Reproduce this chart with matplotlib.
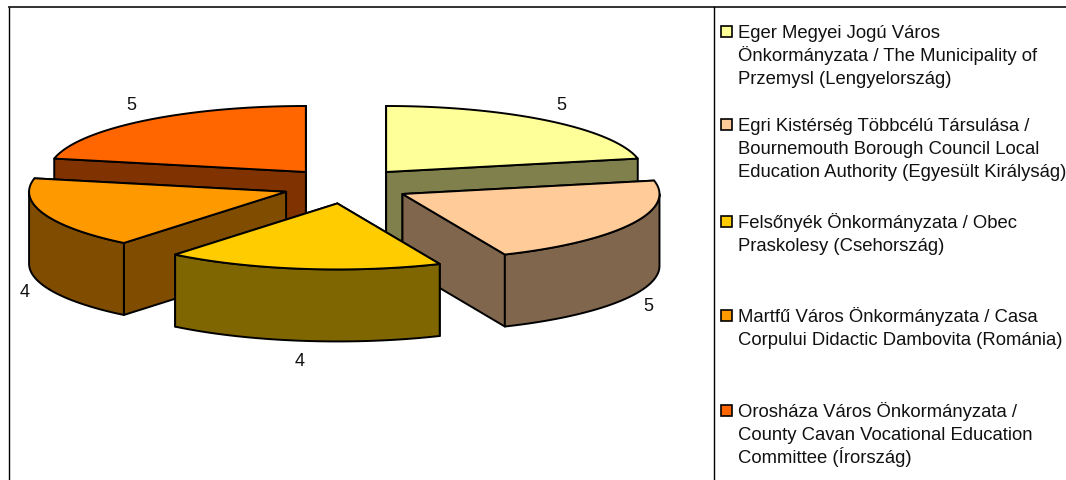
import numpy as np
import matplotlib
matplotlib.use('Agg')
import matplotlib.pyplot as plt
from matplotlib.patches import Polygon, Rectangle

# Chart data
labels = [
    'Eger Megyei Jogú Város\nÖnkormányzata / The Municipality of\nPrzemysl (Lengyelország)',
    'Egri Kistérség Többcélú Társulása /\nBournemouth Borough Council Local\nEducation Authority (Egyesült Királyság)',
    'Felsőnyék Önkormányzata / Obec\nPraskolesy (Csehország)',
    'Martfű Város Önkormányzata / Casa\nCorpului Didactic Dambovita (Románia)',
    'Orosháza Város Önkormányzata /\nCounty Cavan Vocational Education\nCommittee (Írország)',
]
values = [5, 5, 4, 4, 5]
top_colors = ['#FFFF99', '#FFCC99', '#FFCC00', '#FF9900', '#FF6600']
side_colors = ['#80804D', '#80664D', '#806600', '#804D00', '#803300']
legend_y = [32, 125, 222, 316, 411]

# Fake 3D pie geometry, in pixels
CX, CY = 346, 186.8
RX, RY = 257, 66
EXPLODE_X, EXPLODE_Y = 63.6, 17.8
DEPTH = 72
LABEL_RX, LABEL_RY = 277, 87
LINE_H = 23.2
LW = 1.4


def rim(cx, cy, a0, a1):
    t = np.radians(np.linspace(a0, a1, 80))
    return np.column_stack([cx + RX * np.sin(t), cy - RY * np.cos(t)])


def draw_slice(ax, start, sweep, top, side, value):
    end = start + sweep
    mid = np.radians(start + sweep / 2)
    cx = CX + EXPLODE_X * np.sin(mid)
    cy = CY - EXPLODE_Y * np.cos(mid)
    apex = np.array([cx, cy])
    down = np.array([0, DEPTH])

    # walls, the ones further back first
    walls = []
    for a in (start, end):
        p = rim(cx, cy, a, a)[0]
        walls.append(((apex[1] + p[1]) / 2, np.array([apex, p, p + down, apex + down])))
    walls.sort(key=lambda w: w[0])
    for _, wall in walls:
        ax.add_patch(Polygon(wall, closed=True, fc=side, ec='black', lw=LW, joinstyle='round'))

    # outer wall, front half of the rim only
    a0, a1 = max(start, 90), min(end, 270)
    if a1 > a0:
        edge = rim(cx, cy, a0, a1)
        ax.add_patch(Polygon(np.vstack([edge, edge[::-1] + down]), closed=True,
                             fc=side, ec='black', lw=LW, joinstyle='round'))

    ax.add_patch(Polygon(np.vstack([apex, rim(cx, cy, start, end)]), closed=True,
                         fc=top, ec='black', lw=LW, joinstyle='round'))

    # data label
    lx = cx + LABEL_RX * np.sin(mid)
    ly = cy - LABEL_RY * np.cos(mid)
    if np.cos(mid) < 0:
        ly += DEPTH - 1
    ax.text(lx, ly, str(value), ha='center', va='center', fontsize=13, color='#111111')


plt.rcParams['font.family'] = ['Liberation Sans', 'DejaVu Sans']
fig = plt.figure(figsize=(10.66, 4.81), dpi=100)
ax = fig.add_axes([0, 0, 1, 1])
ax.set_xlim(0, 1066)
ax.set_ylim(481, 0)
ax.axis('off')

# outer frame and legend divider
ax.plot([8.5, 8.5], [481, 7.5], color='black', lw=1)
ax.plot([8.5, 1066], [7.5, 7.5], color='#222222', lw=1.3)
ax.plot([713.5, 713.5], [7.5, 481], color='black', lw=1)

sweeps = [v / sum(values) * 360 for v in values]
starts = np.cumsum([0] + sweeps[:-1])

# back slices first so the front ones overlap them
for i in [4, 0, 3, 1, 2]:
    draw_slice(ax, starts[i], sweeps[i], top_colors[i], side_colors[i], values[i])

# legend
for lab, y, col in zip(labels, legend_y, top_colors):
    ax.add_patch(Rectangle((721, y - 5.5), 11, 11, fc=col, ec='black', lw=1.2))
    for j, line in enumerate(lab.split('\n')):
        # baseline keeps the line spacing even
        ax.text(738, y + 6 + j * LINE_H, line, ha='left', va='baseline', fontsize=13.3,
                color='#111111', clip_on=True)

fig.savefig('out.png', dpi=100)
